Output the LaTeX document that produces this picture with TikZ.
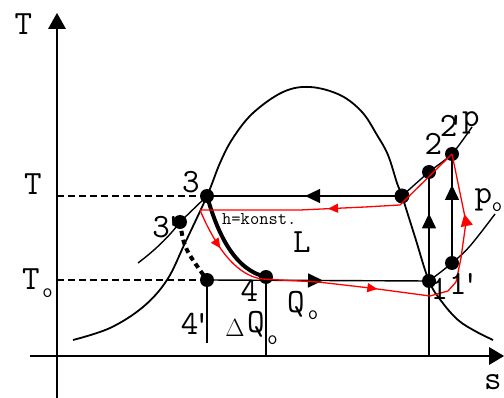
\documentclass[tikz,border=0pt]{standalone}
\usepackage{fontspec}
\usetikzlibrary{arrows.meta,decorations.markings}
\newcommand{\pr}{\kern-0.15em'}
\newcommand{\prr}{\kern-0.3em'}
\begin{document}
\begin{tikzpicture}[x=1pt,y=-1pt,
 ax/.style={line width=1.8pt},
 ln/.style={line width=1.4pt},
 dsh/.style={line width=1.4pt, dash pattern=on 7pt off 4pt},
 thk/.style={line width=4pt},
 rl/.style={draw=red, line width=1.3pt},
 lbl/.style={inner sep=0pt, font=\fontsize{34}{34}\selectfont\ttfamily},
 sub/.style={inner sep=0pt, font=\fontsize{20}{20}\selectfont\ttfamily},
 small/.style={inner sep=0pt, font=\fontsize{18}{18}\selectfont\ttfamily},
 midarrow/.style={postaction={decorate}, decoration={markings, mark=at position #1 with {\arrow{Triangle[length=15pt,width=14pt]}}}},
 redarrow/.style={postaction={decorate}, decoration={markings, mark=at position #1 with {\arrow{Triangle[length=10pt,width=9pt,color=red]}}}},
]
\useasboundingbox (0,0) rectangle (504,398);
% key points
\coordinate (O) at (57,356);
\coordinate (Ytop) at (57,28);
\coordinate (Ybot) at (57,398);
\coordinate (Xl) at (30,356);
\coordinate (Xr) at (490,356);
\coordinate (yT) at (57,196);
\coordinate (yTo) at (57,280);
\coordinate (P3) at (207,196);
\coordinate (P3p) at (180,222);
\coordinate (P4p) at (207,280);
\coordinate (P4) at (266,277);
\coordinate (Pg) at (402,196);
\coordinate (P1) at (429,281);
\coordinate (P1p) at (452,263);
\coordinate (P2) at (429,172);
\coordinate (P2p) at (452,154);
\coordinate (B4p) at (207,343);
\coordinate (B4) at (266,356);
\coordinate (B1) at (429,356);
\coordinate (Lp) at (138,263);
\coordinate (Rp) at (472,127);
\coordinate (Rpo) at (495,214);
% axes
\draw[ax] (Ybot) -- (Ytop);
\fill (57,13) -- (48,29) -- (66,29) -- cycle;
\draw[ax] (Xl) -- (Xr);
\fill (504,356) -- (489,347) -- (489,365) -- cycle;
% saturation dome
\draw[ax] plot[smooth, tension=0.6] coordinates {(73,340) (110,328) (143,307) (167,280) (185,243) (207,196) (220,163) (233,138) (253,113) (283,92) (310,87) (340,95) (362,112) (377,135) (388,155) (397,183) (402,196) (415,237) (429,281) (442,302) (458,320) (475,331) (493,340)};
% isobars
\draw[ln] (Lp) .. controls (158,248) and (172,233) .. (P3p) -- (P3);
\draw[ln] plot[smooth, tension=0.4] coordinates {(Pg) (P2) (P2p) (Rp)};
\draw[ln] plot[smooth, tension=0.6] coordinates {(P1) (P1p) (470,246) (Rpo)};
% temperature lines
\draw[dsh] (yT) -- (P3);
\draw[dsh] (yTo) -- (P4p);
\draw[ln, midarrow=0.497] (Pg) -- (P3);
\draw[ln, midarrow=0.5225] (P4p) -- (P1);
% verticals
\draw[ln, midarrow=0.62] (P1) -- (P2);
\draw[ln, midarrow=0.716] (P1p) -- (P2p);
\draw[ln] (P1) -- (B1);
\draw[ln] (P4p) -- (B4p);
\draw[ln] (P4) -- (B4);
% throttling
\draw[thk] (P3) .. controls (218,235) and (235,270) .. (P4);
\draw[thk, dash pattern=on 5pt off 4pt] (P3p) .. controls (184,248) .. (P4p);
% dots
\foreach \p in {P3,P3p,P4p,P4,P1,P1p,P2,P2p}
  \fill (\p) circle (7pt);
\fill (Pg) circle (7.5pt);
% red real cycle
\coordinate (R0) at (200,210);
\coordinate (Rg) at (400,205);
\coordinate (R4) at (262,279);
\draw[rl, redarrow=0.36] (Rg) -- (365,207) -- (300,210) -- (R0);
\draw[rl] (Rg) -- (P2p);
\draw[rl, redarrow=0.45] (R0) .. controls (214,243) and (234,275) .. (R4);
\draw[rl, postaction={decorate}, decoration={markings,
   mark=at position 0.351 with {\arrow{Triangle[length=10pt,width=9pt,color=red]}},
   mark=at position 0.814 with {\arrow{Triangle[length=12pt,width=12pt,color=red]}}}]
  (R4) -- (318,282) -- (370,288) -- (430,296) -- (448,291) -- (456,282) -- (461,258) -- (466,222) -- (P2p);
% labels
\node[lbl, anchor=base] (tT) at (23.5,35) {T};
\node[lbl, anchor=base] (tT1) at (33,195) {T};
\node[lbl, anchor=base] (tTo) at (31,290) {T};
\node[sub, anchor=base] (tTos) at (47.5,298) {o};
\node[lbl, anchor=base] (t3) at (191,193) {3};
\node[lbl, anchor=base west] (t3p) at (152.1,238) {3\pr};
\node[lbl, anchor=base west] (t4p) at (180.6,335) {4\pr};
\node[lbl, anchor=base] (t4) at (249.5,302) {4};
\node[inner sep=0pt, anchor=base] (tD) at (235,337) {\fontsize{27}{27}\selectfont$\Delta$};
\node[lbl, anchor=base] (tDQ) at (256,333) {Q};
\node[sub, anchor=base] (tDQs) at (272.5,345) {o};
\node[lbl, anchor=base] (tL) at (302,253) {L};
\node[lbl, anchor=base] (tQ) at (296,312.5) {Q};
\node[sub, anchor=base] (tQs) at (313,320) {o};
\node[small, anchor=base west] (th) at (222,225) {h=konst.};
\node[lbl, anchor=base] (t2) at (433.5,155) {2};
\node[lbl, anchor=base west] (t2p) at (439.6,137) {2\prr};
\node[lbl, anchor=base] (tp) at (471,127) {p};
\node[lbl, anchor=base] (tpo) at (483.5,204) {p};
\node[sub, anchor=base] (tpos) at (497,212) {o};
\node[lbl, anchor=base] (t1) at (439.5,300) {1};
\node[lbl, anchor=base west] (t1p) at (449,295) {1\pr};
\node[lbl, anchor=base] (ts) at (493,390) {s};
\end{tikzpicture}
\end{document}
